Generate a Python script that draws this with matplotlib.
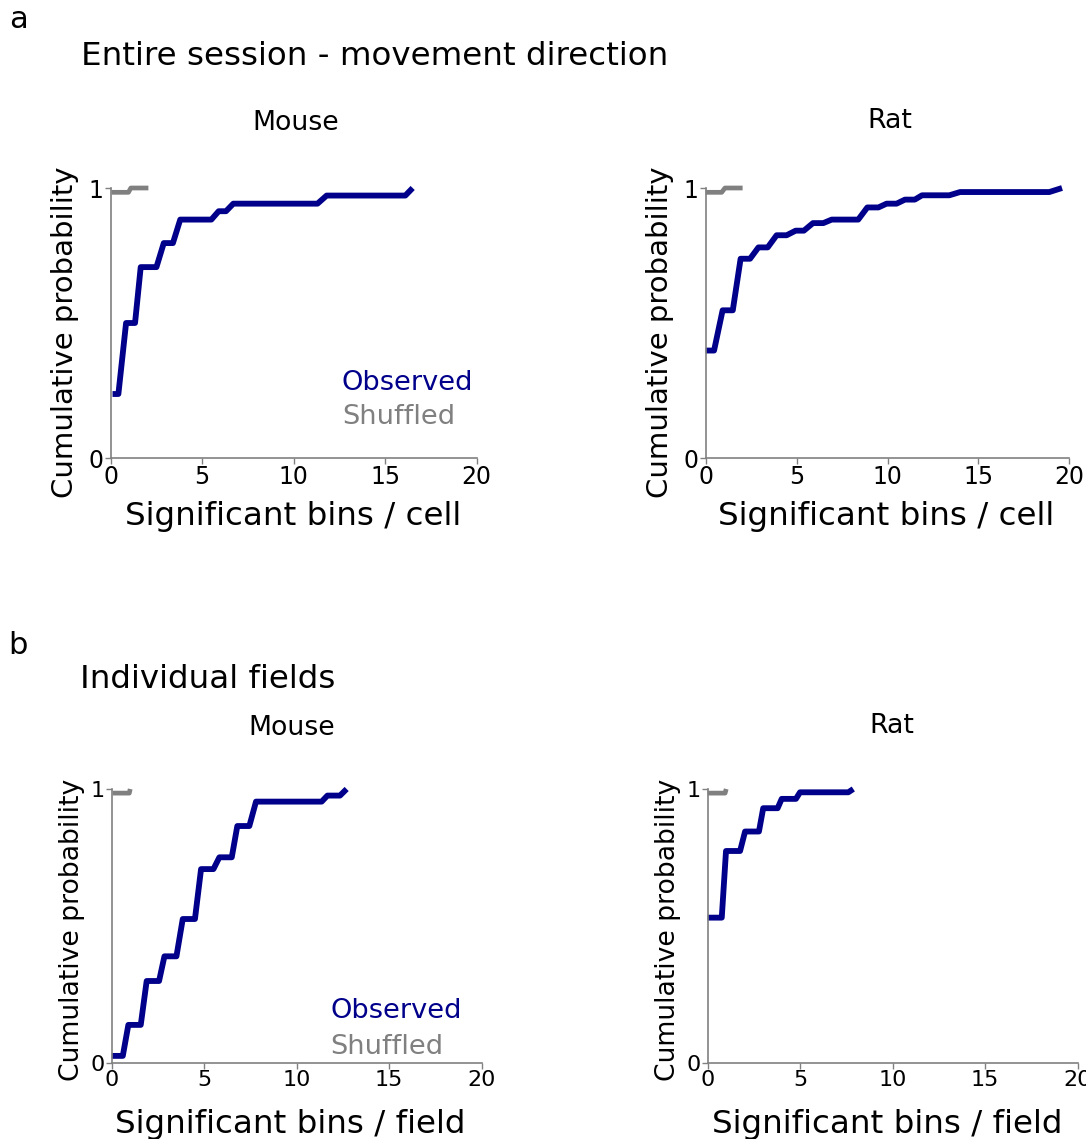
import numpy as np
import matplotlib
matplotlib.use('Agg')
import matplotlib.pyplot as plt

W, H = 1086, 1139

# cumulative curves (vertices of the plotted line)
# a - entire session, mouse
mouse_cell_x = [0.1, 0.42, 0.84, 1.33, 1.64, 2.5, 2.9, 3.4, 3.8, 5.5, 5.9, 6.3, 6.7, 11.3, 11.8, 16.1, 16.5]
mouse_cell_y = [0.237, 0.237, 0.50, 0.50, 0.707, 0.707, 0.796, 0.796, 0.883, 0.883, 0.914, 0.914, 0.942, 0.942, 0.972, 0.972, 1.0]
mouse_cell_shuf_x = [0.05, 0.97, 1.1, 2.06]
mouse_cell_shuf_y = [0.984, 0.984, 1.0, 1.0]
# a - entire session, rat
rat_cell_x = [0.0, 0.46, 0.93, 1.49, 1.92, 2.44, 2.9, 3.41, 3.9, 4.45, 4.95, 5.4, 5.9, 6.47, 6.93, 8.39,
              8.89, 9.5, 9.95, 10.5, 10.96, 11.5, 11.9, 13.4, 13.99, 18.9, 19.6]
rat_cell_y = [0.398, 0.398, 0.547, 0.547, 0.738, 0.738, 0.78, 0.78, 0.825, 0.825, 0.842, 0.842, 0.870, 0.870,
              0.883, 0.883, 0.928, 0.928, 0.942, 0.942, 0.957, 0.957, 0.973, 0.973, 0.985, 0.985, 1.0]
rat_cell_shuf_x = [0.0, 0.88, 1.06, 2.03]
rat_cell_shuf_y = [0.984, 0.984, 1.0, 1.0]
# b - individual fields, mouse
mouse_field_x = [0.0, 0.6, 0.9, 1.57, 1.89, 2.56, 2.85, 3.5, 3.84, 4.5, 4.83, 5.5, 5.82, 6.49, 6.79, 7.44,
                 7.8, 11.35, 11.66, 12.34, 12.7]
mouse_field_y = [0.027, 0.027, 0.14, 0.14, 0.30, 0.30, 0.39, 0.39, 0.526, 0.526, 0.708, 0.708, 0.751, 0.751,
                 0.865, 0.865, 0.954, 0.954, 0.976, 0.976, 1.0]
mouse_field_shuf_x = [0.05, 0.95, 1.0]
mouse_field_shuf_y = [0.985, 0.985, 1.0]
# b - individual fields, rat
rat_field_x = [0.0, 0.76, 0.99, 1.75, 2.02, 2.77, 3.0, 3.78, 4.0, 4.77, 4.99, 7.6, 7.87]
rat_field_y = [0.531, 0.531, 0.774, 0.774, 0.845, 0.845, 0.93, 0.93, 0.964, 0.964, 0.988, 0.988, 1.0]
rat_field_shuf_x = [0.0, 0.94, 1.0]
rat_field_shuf_y = [0.985, 0.985, 1.0]

xticks = [0, 5, 10, 15, 20]
yticks = [0, 1]

obs_col = '#00008B'
shuf_col = '#808080'

fig = plt.figure(figsize=(W / 100, H / 100), dpi=100)


def px(x, y):
    return x / W, 1 - y / H


def make_ax(left, right, top, bottom, tsize):
    ax = fig.add_axes([left / W, 1 - bottom / H, (right - left) / W, (bottom - top) / H])
    ax.set_xlim(0, 20)
    ax.set_ylim(0, 1)
    ax.set_xticks(xticks)
    ax.set_yticks(yticks)
    for s in ['top', 'right']:
        ax.spines[s].set_visible(False)
    for s in ['left', 'bottom']:
        ax.spines[s].set_color(shuf_col)
        ax.spines[s].set_linewidth(1.2)
    ax.tick_params(length=4, width=1, color=shuf_col, labelsize=tsize, pad=1)
    return ax


panels = [
    (110.7, 476.7, 188, 458, mouse_cell_x, mouse_cell_y, mouse_cell_shuf_x, mouse_cell_shuf_y, 17),
    (705.7, 1069.3, 188, 458, rat_cell_x, rat_cell_y, rat_cell_shuf_x, rat_cell_shuf_y, 17),
    (111.7, 481.7, 789, 1063.3, mouse_field_x, mouse_field_y, mouse_field_shuf_x, mouse_field_shuf_y, 16),
    (707.7, 1077.7, 789, 1063.3, rat_field_x, rat_field_y, rat_field_shuf_x, rat_field_shuf_y, 16),
]
for l, r, t, b, ox, oy, sx, sy, ts in panels:
    ax = make_ax(l, r, t, b, ts)
    ax.plot(sx, sy, color=shuf_col, lw=3.4, clip_on=False, solid_capstyle='butt')
    ax.plot(ox, oy, color=obs_col, lw=4.2, clip_on=False, solid_capstyle='butt')

# panel letters and headings
fig.text(*px(9, 28), 'a', fontsize=22, va='baseline')
fig.text(*px(81, 65), 'Entire session - movement direction', fontsize=23.4, va='baseline')
fig.text(*px(8, 654), 'b', fontsize=22, va='baseline')
fig.text(*px(80, 688), 'Individual fields', fontsize=23.4, va='baseline')

fig.text(*px(296, 130), 'Mouse', fontsize=19.3, ha='center', va='baseline')
fig.text(*px(890, 128), 'Rat', fontsize=19.3, ha='center', va='baseline')
fig.text(*px(292, 735), 'Mouse', fontsize=19.3, ha='center', va='baseline')
fig.text(*px(892, 733), 'Rat', fontsize=19.3, ha='center', va='baseline')

# axis labels
fig.text(*px(293.5, 525), 'Significant bins / cell', fontsize=23.4, ha='center', va='baseline')
fig.text(*px(886, 525), 'Significant bins / cell', fontsize=23.4, ha='center', va='baseline')
fig.text(*px(290, 1133), 'Significant bins / field', fontsize=23.4, ha='center', va='baseline')
fig.text(*px(887.5, 1133), 'Significant bins / field', fontsize=23.4, ha='center', va='baseline')

fig.text(*px(65, 332), 'Cumulative probability', fontsize=21, rotation=90, ha='center', va='center')
fig.text(*px(660, 332), 'Cumulative probability', fontsize=21, rotation=90, ha='center', va='center')
fig.text(*px(72, 930), 'Cumulative probability', fontsize=19.2, rotation=90, ha='center', va='center')
fig.text(*px(668, 930), 'Cumulative probability', fontsize=19.2, rotation=90, ha='center', va='center')

# legend as coloured text
fig.text(*px(342, 382.5), 'Observed', fontsize=19.6, color=obs_col, va='center')
fig.text(*px(342, 417.5), 'Shuffled', fontsize=19.6, color=shuf_col, va='center')
fig.text(*px(330, 1011), 'Observed', fontsize=19.6, color=obs_col, va='center')
fig.text(*px(330, 1047), 'Shuffled', fontsize=19.6, color=shuf_col, va='center')

fig.savefig('out.png', dpi=100)
